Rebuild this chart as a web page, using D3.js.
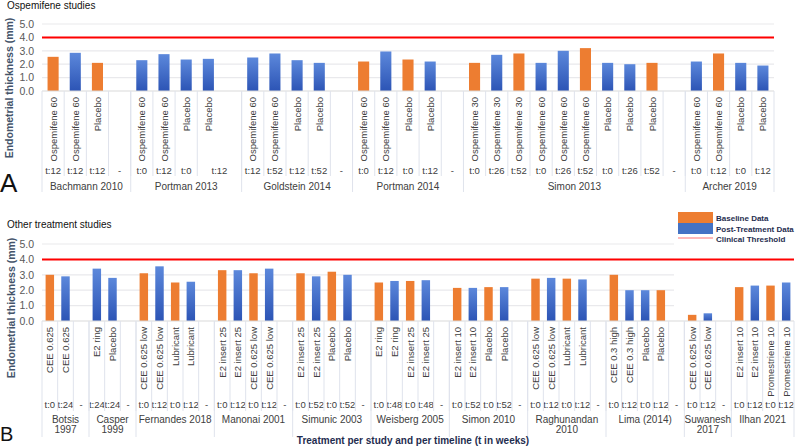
<!DOCTYPE html>
<html><head><meta charset="utf-8">
<script src="https://cdn.jsdelivr.net/npm/d3@7"></script>
<style>body{margin:0;background:#fff}svg{display:block;font-family:"Liberation Sans",Arial,sans-serif}</style>
</head><body><div id="chart"></div>
<script>
// ---------- Panel A: Ospemifene studies ----------
const topGroups = ["Bachmann 2010","Portman 2013","Goldstein 2014","Portman 2014","Simon 2013","Archer 2019"];
const topGroupSpans = [4,5,5,5,10,4];
const topTreatments = [
  "Ospemifene 60","Ospemifene 60","Placebo","",
  "Ospemifene 60","Ospemifene 60","Placebo","Placebo","",
  "Ospemifene 60","Ospemifene 60","Placebo","Placebo","",
  "Ospemifene 60","Ospemifene 60","Placebo","Placebo","",
  "Ospemifene 30","Ospemifene 30","Ospemifene 30","Ospemifene 60","Ospemifene 60","Ospemifene 60","Placebo","Placebo","Placebo","",
  "Ospemifene 60","Ospemifene 60","Placebo","Placebo"];
// null = merged with previous timeline cell
const topTimes = [
  "t:12","t:12","t:12","-",
  "t:0","t:12","t:0","t:12",null,
  "t:12","t:52","t:12","t:52","-",
  "t:0","t:12","t:0","t:12","-",
  "t:0","t:26","t:52","t:0","t:26","t:52","t:0","t:26","t:52","-",
  "t:0","t:12","t:0","t:12"];
const topValues = [
  2.55,2.85,2.1,null,
  2.3,2.75,2.35,2.4,null,
  2.5,2.8,2.3,2.1,null,
  2.2,2.95,2.35,2.2,null,
  2.1,2.7,2.8,2.1,3.0,3.2,2.1,2.0,2.1,null,
  2.2,2.8,2.1,1.9];
const topSeries = [
  "B","P","B",null,
  "P","P","P","P",null,
  "P","P","P","P",null,
  "B","P","B","P",null,
  "B","P","B","P","P","B","P","P","B",null,
  "P","B","P","P"];

// ---------- Panel B: Other treatment studies ----------
const botGroups = ["Botsis\n1997","Casper\n1999","Fernandes 2018","Manonai 2001","Simunic 2003","Weisberg 2005","Simon 2010","Raghunandan\n2010","Lima (2014)","Suwanesh\n2017","Ilhan 2021"];
const botGroupSpans = [3,3,5,5,5,5,5,5,5,3,4];
const botTreatments = [
  "CEE 0.625","CEE 0.625","",
  "E2 ring","Placebo","",
  "CEE 0.625 low","CEE 0.625 low","Lubricant","Lubricant","",
  "E2 insert 25","E2 insert 25","CEE 0.625 low","CEE 0.625 low","",
  "E2 insert 25","E2 insert 25","Placebo","Placebo","",
  "E2 ring","E2 ring","E2 insert 25","E2 insert 25","",
  "E2 insert 10","E2 insert 10","Placebo","Placebo","",
  "CEE 0.625 low","CEE 0.625 low","Lubricant","Lubricant","",
  "CEE 0.3 high","CEE 0.3 high","Placebo","Placebo","",
  "CEE 0.625 low","CEE 0.625 low","",
  "E2 insert 10","E2 insert 10","Promestriene 10","Promestriene 10"];
const botTimes = [
  "t:0","t:24","-",
  "t:24","t:24","-",
  "t:0","t:12","t:0","t:12","-",
  "t:0","t:12","t:0","t:12","-",
  "t:0","t:52","t:0","t:52","-",
  "t:0","t:48","t:0","t:48","-",
  "t:0","t:52","t:0","t:52","-",
  "t:0","t:12","t:0","t:12","-",
  "t:0","t:12","t:0","t:12","-",
  "t:0","t:12","-",
  "t:0","t:12","t:0","t:12"];
const botValues = [
  3.0,2.9,null,
  3.4,2.8,null,
  3.1,3.55,2.5,2.55,null,
  3.3,3.3,3.1,3.4,null,
  3.1,2.9,3.2,3.0,null,
  2.5,2.6,2.6,2.65,null,
  2.15,2.15,2.2,2.2,null,
  2.75,2.8,2.75,2.7,null,
  3.0,2.0,2.0,2.0,null,
  0.4,0.5,null,
  2.2,2.3,2.3,2.5];
const botSeries = [
  "B","P",null,
  "P","P",null,
  "B","P","B","P",null,
  "B","P","B","P",null,
  "B","P","B","P",null,
  "B","P","B","P",null,
  "B","P","B","P",null,
  "B","P","B","P",null,
  "B","P","P","B",null,
  "B","P",null,
  "B","P","B","P"];

const yTicks = [0,1,2,3,4,5];
const threshold = 4.0;
const legendLabels = ["Baseline Data","Post-Treatment Data","Clinical Threshold"];

const ORANGE = "#ED7D31", RED = "#FF0000", GRID = "#e9e9ec", CELL = "#dfe3ec", TXT = "#404040";

const svg = d3.select("#chart").append("svg").attr("width",800).attr("height",446);
const defs = svg.append("defs");
const grad = defs.append("linearGradient").attr("id","blueGrad").attr("x1",0).attr("y1",0).attr("x2",0).attr("y2",1);
grad.append("stop").attr("offset","0%").attr("stop-color","#5C88DB");
grad.append("stop").attr("offset","100%").attr("stop-color","#2C54B5");

function drawPanel(c){
  const g = svg.append("g");
  const n = c.values.length;
  const x = d3.scaleBand().domain(d3.range(n)).range([c.x0,c.x1]).padding(0);
  const y = d3.scaleLinear().domain([0,5]).range([c.y0,c.y5]);
  g.append("g").selectAll("line").data(yTicks.filter(t=>t>0)).join("line")
    .attr("x1",c.x0).attr("x2",c.gridEnd||c.x1).attr("y1",d=>y(d)).attr("y2",d=>y(d))
    .attr("stroke",GRID).attr("stroke-width",1.2);
  const ya = g.append("g").attr("transform",`translate(${c.x0},0)`)
    .call(d3.axisLeft(y).tickValues(yTicks).tickFormat(d3.format(".1f")).tickSize(0).tickPadding(8));
  ya.select(".domain").remove();
  ya.selectAll("text").attr("font-size",10.5).attr("fill","#595959").attr("font-family","Liberation Sans, Arial, sans-serif");
  g.append("text").attr("transform",`translate(${c.titleX},${c.titleY}) rotate(-90)`)
    .attr("text-anchor","middle").attr("font-size",10.5).attr("font-weight","bold").attr("fill","#44546A")
    .attr("dominant-baseline","middle").text("Endometrial thickness (mm)");
  const bw = x.bandwidth()*c.barFrac;
  g.append("g").selectAll("rect").data(d3.range(n).filter(i=>c.values[i]!=null)).join("rect")
    .attr("x",i=>x(i)+(x.bandwidth()-bw)/2).attr("width",bw)
    .attr("y",i=>y(c.values[i])).attr("height",i=>y(0)-y(c.values[i]))
    .attr("fill",i=>c.series[i]==="B"?ORANGE:"url(#blueGrad)");
  g.append("line").attr("x1",c.x0).attr("x2",c.x1).attr("y1",y(0)).attr("y2",y(0)).attr("stroke","#d9d9d9");
  g.append("line").attr("x1",c.x0).attr("x2",c.x1).attr("y1",y(threshold)).attr("y2",y(threshold))
    .attr("stroke",RED).attr("stroke-width",2);
  g.append("g").selectAll("text").data(d3.range(n)).join("text")
    .attr("transform",i=>`translate(${x(i)+x.bandwidth()/2+1},${c.labTop}) rotate(-90)`)
    .attr("text-anchor","end").attr("dominant-baseline","middle")
    .attr("font-size",c.labFont).attr("fill",TXT).text(i=>c.treatments[i]);
  const cells = [];
  c.times.forEach((t,i)=>{ if(t===null) cells[cells.length-1].span++; else cells.push({t,start:i,span:1}); });
  g.append("g").selectAll("text").data(cells).join("text")
    .attr("x",d=>x(d.start)+x.bandwidth()*d.span/2).attr("y",c.tY)
    .attr("text-anchor","middle").attr("dominant-baseline","middle")
    .attr("font-size",c.tFont).attr("fill",TXT).text(d=>d.t);
  g.append("g").selectAll("line").data(cells.slice(1)).join("line")
    .attr("x1",d=>x(d.start)).attr("x2",d=>x(d.start)).attr("y1",y(0)).attr("y2",c.cellBottom)
    .attr("stroke",CELL);
  let acc = 0; const gcells = c.groups.map((name,k)=>{ const o={name,start:acc,span:c.groupSpans[k]}; acc+=c.groupSpans[k]; return o; });
  const gx = d=>x(d.start)+x.bandwidth()*d.span/2;
  const gt = g.append("g").selectAll("text").data(gcells).join("text")
    .attr("x",gx).attr("y",c.gY).attr("text-anchor","middle")
    .attr("font-size",c.gFont).attr("fill",TXT);
  gt.each(function(d){
    d.name.split("\n").forEach((s,j)=>d3.select(this).append("tspan").attr("x",gx(d)).attr("dy",j?c.gLine:0).text(s));
  });
  const bounds = gcells.map(d=>d.start).concat([n]);
  g.append("g").selectAll("line").data(bounds).join("line")
    .attr("x1",d=>d===n?c.x1:x(d)).attr("x2",d=>d===n?c.x1:x(d)).attr("y1",y(0)).attr("y2",c.groupBottom)
    .attr("stroke",CELL);
  return {x,y};
}

drawPanel({values:topValues,series:topSeries,treatments:topTreatments,times:topTimes,groups:topGroups,groupSpans:topGroupSpans,
  x0:42,x1:774,y0:91,y5:24,barFrac:0.5,titleX:10,titleY:88,
  labTop:97,labFont:9.5,tY:171,tFont:9.5,cellBottom:176,gY:190,gFont:10,gLine:10,groupBottom:192});

drawPanel({values:botValues,series:botSeries,treatments:botTreatments,times:botTimes,groups:botGroups,groupSpans:botGroupSpans,
  x0:42,x1:794,y0:321,y5:244,barFrac:0.54,titleX:12,titleY:308,gridEnd:674,
  labTop:327,labFont:9.5,tY:405,tFont:9.5,cellBottom:411,gY:423,gFont:10,gLine:10,groupBottom:437});

svg.append("text").attr("x",7).attr("y",9).attr("font-size",10).attr("fill","#111").text("Ospemifene studies");
svg.append("text").attr("x",7).attr("y",228).attr("font-size",10).attr("fill","#111").text("Other treatment studies");
svg.append("text").attr("x",0).attr("y",192).attr("font-size",26).attr("fill","#111").text("A");
svg.append("text").attr("x",0).attr("y",441).attr("font-size",20).attr("fill","#111").text("B");
svg.append("text").attr("x",413).attr("y",444).attr("text-anchor","middle").attr("font-size",10).attr("font-weight","bold")
  .attr("fill","#1F2D4F").text("Treatment per study and per timeline (t in weeks)");

const lg = svg.append("g");
lg.append("rect").attr("x",675).attr("y",206).attr("width",125).attr("height",41).attr("fill","#fff");
lg.append("rect").attr("x",678).attr("y",212).attr("width",35).attr("height",11).attr("fill",ORANGE);
lg.append("rect").attr("x",678).attr("y",223).attr("width",35).attr("height",11).attr("fill","#4472C4");
lg.append("line").attr("x1",678).attr("x2",713).attr("y1",238).attr("y2",238).attr("stroke","#FFB8B8").attr("stroke-width",2);
lg.selectAll("text.lt").data(legendLabels).join("text").attr("class","lt")
  .attr("x",716).attr("y",(d,i)=>219+i*10.5).attr("font-size",8).attr("font-weight","bold")
  .attr("fill","#1F2D4F").attr("dominant-baseline","middle").text(d=>d);
</script></body></html>
